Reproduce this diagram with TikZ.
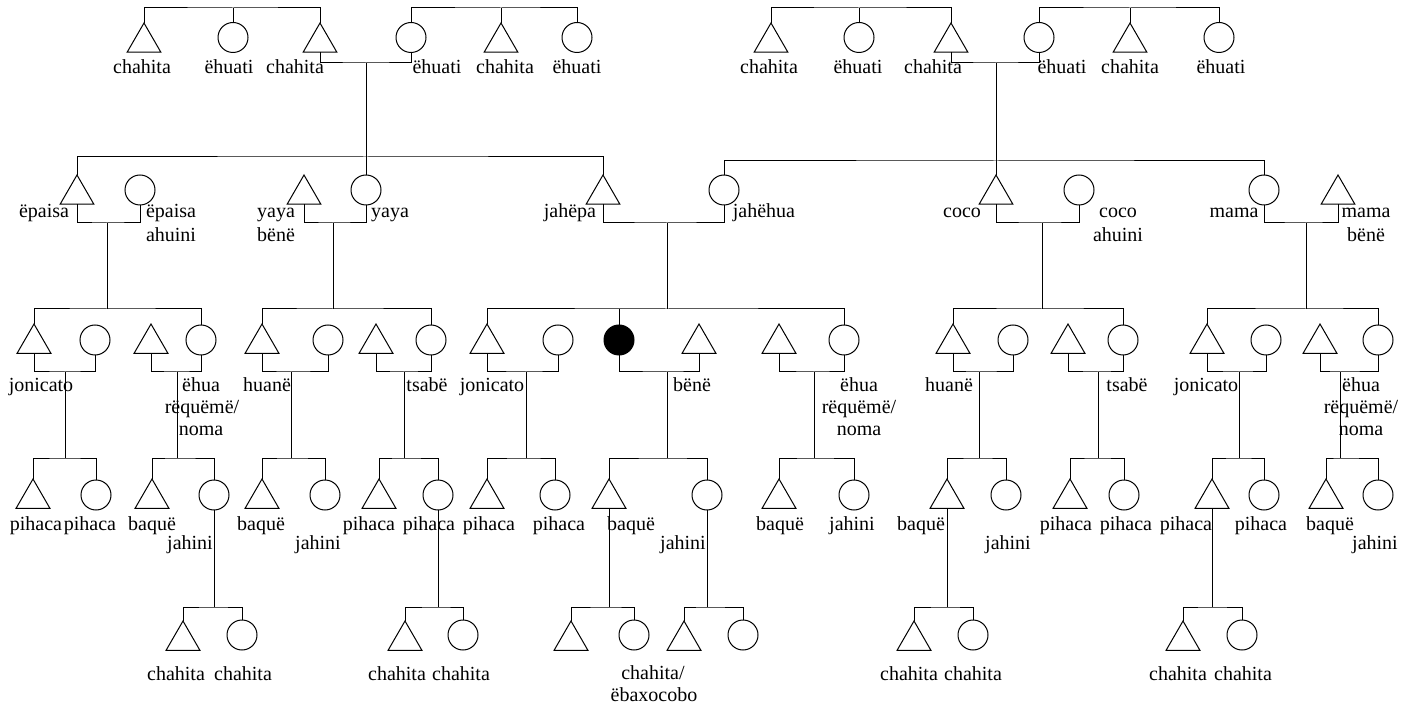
\documentclass[tikz,border=0pt]{standalone}
\usepackage{fontspec}
\setmainfont{Liberation Serif}
\usetikzlibrary{shapes.geometric}
\tikzset{
  male/.style={draw, regular polygon, regular polygon sides=3, minimum size=39pt, inner sep=0pt, outer sep=0pt, anchor=north},
  female/.style={draw, circle, minimum size=30pt, inner sep=0pt, outer sep=0pt},
  egof/.style={female, fill=black},
  lbl/.style={anchor=mid, inner sep=0pt, yshift=-2pt, font=\fontsize{20}{23}\selectfont},
}
\newcommand\mylbl[4]{\node[lbl] (#1) at (#2,#3) {#4};}
\begin{document}
\begin{tikzpicture}[x=1pt, y=-1pt, line width=1pt]
\useasboundingbox (0,0) rectangle (1416,708);
% ---------- generation 1 ----------
\node[male] (a1) at (144,23) {};
\node[female] (a2) at (233,37.5) {};
\node[male] (a3) at (320,23) {};
\node[female] (a4) at (411,37.5) {};
\node[male] (a5) at (501,23) {};
\node[female] (a6) at (577,37.5) {};
\coordinate (s1) at (233,8); \coordinate (s2) at (501,8);
\draw (a1.north) |- (s1) -| (a3.north); \draw (s1) -- (a2.north);
\draw (a4.north) |- (s2) -| (a6.north); \draw (s2) -- (a5.north);
\coordinate (m1) at (366,63);
\draw (a3.south) |- (m1) -| (a4.south);

\node[male] (b1) at (771,23) {};
\node[female] (b2) at (859,37.5) {};
\node[male] (b3) at (951,23) {};
\node[female] (b4) at (1039,37.5) {};
\node[male] (b5) at (1130,23) {};
\node[female] (b6) at (1219,37.5) {};
\coordinate (s3) at (859,8); \coordinate (s4) at (1130,8);
\draw (b1.north) |- (s3) -| (b3.north); \draw (s3) -- (b2.north);
\draw (b4.north) |- (s4) -| (b6.north); \draw (s4) -- (b5.north);
\coordinate (m2) at (996,63);
\draw (b3.south) |- (m2) -| (b4.south);

% ---------- generation 2 ----------
\node[male] (epa) at (77,175) {};
\node[female] (epw) at (140,190) {};
\node[male] (yyh) at (304,175) {};
\node[female] (yy) at (366,190) {};
\node[male] (jp) at (603,175) {};
\node[female] (jh) at (724,190) {};
\node[male] (co) at (996,175) {};
\node[female] (cow) at (1079,190) {};
\node[female] (ma) at (1264,190) {};
\node[male] (mah) at (1338,175) {};
\coordinate (s5) at (366,157);
\draw (epa.north) |- (s5) -| (jp.north); \draw (m1) -- (yy.north);
\coordinate (s6) at (996,161);
\draw (jh.north) |- (s6) -| (ma.north); \draw (m2) -- (co.north);
\coordinate (m3) at (107,223); \draw (epa.south) |- (m3) -| (epw.south);
\coordinate (m4) at (333,223); \draw (yyh.south) |- (m4) -| (yy.south);
\coordinate (m5) at (667,223); \draw (jp.south) |- (m5) -| (jh.south);
\coordinate (m6) at (1042,223); \draw (co.south) |- (m6) -| (cow.south);
\coordinate (m7) at (1306,223); \draw (ma.south) |- (m7) -| (mah.south);

% ---------- generation 3 ----------
\node[male] (c1) at (34,324) {};
\node[female] (c2) at (95,340) {};
\node[male] (c3) at (151,324) {};
\node[female] (c4) at (201,340) {};
\node[male] (c5) at (262,324) {};
\node[female] (c6) at (328,340) {};
\node[male] (c7) at (376,324) {};
\node[female] (c8) at (431,340) {};
\node[male] (c9) at (487,324) {};
\node[female] (c10) at (558,340) {};
\node[egof] (ego) at (619,340) {};
\node[male] (c12) at (699,324) {};
\node[male] (c13) at (779,324) {};
\node[female] (c14) at (844,340) {};
\node[male] (c15) at (953,324) {};
\node[female] (c16) at (1013,340) {};
\node[male] (c17) at (1068,324) {};
\node[female] (c18) at (1123,340) {};
\node[male] (c19) at (1207,324) {};
\node[female] (c20) at (1266,340) {};
\node[male] (c21) at (1320,324) {};
\node[female] (c22) at (1378,340) {};
\coordinate (s7) at (107,309); \draw (c1.north) |- (s7) -| (c4.north); \draw (m3) -- (s7);
\coordinate (s8) at (333,309); \draw (c5.north) |- (s8) -| (c8.north); \draw (m4) -- (s8);
\coordinate (s9) at (667,309); \draw (c9.north) |- (s9) -| (c14.north); \draw (m5) -- (s9);
\draw (ego.north) -- (ego.north |- s9);
\coordinate (s10) at (1042,309); \draw (c15.north) |- (s10) -| (c18.north); \draw (m6) -- (s10);
\coordinate (s11) at (1306,309); \draw (c19.north) |- (s11) -| (c22.north); \draw (m7) -- (s11);
\coordinate (m8) at (65,372); \draw (c1.south) |- (m8) -| (c2.south);
\coordinate (m9) at (177,372); \draw (c3.south) |- (m9) -| (c4.south);
\coordinate (m10) at (291,372); \draw (c5.south) |- (m10) -| (c6.south);
\coordinate (m11) at (404,372); \draw (c7.south) |- (m11) -| (c8.south);
\coordinate (m12) at (526,372); \draw (c9.south) |- (m12) -| (c10.south);
\coordinate (m13) at (667,372); \draw (ego.south) |- (m13) -| (c12.south);
\coordinate (m14) at (814,372); \draw (c13.south) |- (m14) -| (c14.south);
\coordinate (m15) at (979,372); \draw (c15.south) |- (m15) -| (c16.south);
\coordinate (m16) at (1098,372); \draw (c17.south) |- (m16) -| (c18.south);
\coordinate (m17) at (1239,372); \draw (c19.south) |- (m17) -| (c20.south);
\coordinate (m18) at (1340,372); \draw (c21.south) |- (m18) -| (c22.south);

% ---------- generation 4 ----------
\node[male] (d1) at (33,479) {};   \node[female] (d2) at (96,495) {};
\node[male] (d3) at (152,479) {};  \node[female] (d4) at (214,495) {};
\node[male] (d5) at (262,479) {};  \node[female] (d6) at (325,495) {};
\node[male] (d7) at (379,479) {};  \node[female] (d8) at (438,495) {};
\node[male] (d9) at (487,479) {};  \node[female] (d10) at (555,495) {};
\node[male] (d11) at (609,479) {}; \node[female] (d12) at (707,495) {};
\node[male] (d13) at (779,479) {}; \node[female] (d14) at (854,495) {};
\node[male] (d15) at (947,479) {}; \node[female] (d16) at (1006,495) {};
\node[male] (d17) at (1070,479) {};\node[female] (d18) at (1124,495) {};
\node[male] (d19) at (1212,479) {};\node[female] (d20) at (1264,495) {};
\node[male] (d21) at (1326,479) {};\node[female] (d22) at (1378,495) {};
\coordinate (t1) at (65,458);   \draw (d1.north) |- (t1) -| (d2.north);   \draw (m8) -- (t1);
\coordinate (t2) at (177,458);  \draw (d3.north) |- (t2) -| (d4.north);   \draw (m9) -- (t2);
\coordinate (t3) at (291,458);  \draw (d5.north) |- (t3) -| (d6.north);   \draw (m10) -- (t3);
\coordinate (t4) at (404,458);  \draw (d7.north) |- (t4) -| (d8.north);   \draw (m11) -- (t4);
\coordinate (t5) at (526,458);  \draw (d9.north) |- (t5) -| (d10.north);  \draw (m12) -- (t5);
\coordinate (t6) at (667,458);  \draw (d11.north) |- (t6) -| (d12.north); \draw (m13) -- (t6);
\coordinate (t7) at (814,458);  \draw (d13.north) |- (t7) -| (d14.north); \draw (m14) -- (t7);
\coordinate (t8) at (979,458);  \draw (d15.north) |- (t8) -| (d16.north); \draw (m15) -- (t8);
\coordinate (t9) at (1098,458); \draw (d17.north) |- (t9) -| (d18.north); \draw (m16) -- (t9);
\coordinate (t10) at (1239,458);\draw (d19.north) |- (t10) -| (d20.north);\draw (m17) -- (t10);
\coordinate (t11) at (1340,458);\draw (d21.north) |- (t11) -| (d22.north);\draw (m18) -- (t11);

% ---------- generation 5 ----------
\node[male] (e1) at (183,621) {};  \node[female] (e2) at (242,635) {};
\node[male] (e3) at (405,621) {};  \node[female] (e4) at (463,635) {};
\node[male] (e5) at (571,621) {};  \node[female] (e6) at (634,635) {};
\node[male] (e7) at (684,621) {};  \node[female] (e8) at (743,635) {};
\node[male] (e9) at (914,621) {};  \node[female] (e10) at (973,635) {};
\node[male] (e11) at (1183,621) {};\node[female] (e12) at (1242,635) {};
\coordinate (u1) at (214,607);  \draw (d4.south) -- (u1);  \draw (e1.north) |- (u1) -| (e2.north);
\coordinate (u2) at (438,607);  \draw (d8.south) -- (u2);  \draw (e3.north) |- (u2) -| (e4.north);
\coordinate (u3) at (609,607);  \draw (d11.south) -- (u3); \draw (e5.north) |- (u3) -| (e6.north);
\coordinate (u4) at (707,607);  \draw (d12.south) -- (u4); \draw (e7.north) |- (u4) -| (e8.north);
\coordinate (u5) at (947,607);  \draw (d15.south) -- (u5); \draw (e9.north) |- (u5) -| (e10.north);
\coordinate (u6) at (1212,607); \draw (d19.south) -- (u6); \draw (e11.north) |- (u6) -| (e12.north);

% ---------- labels ----------
\mylbl{la1}{142}{69}{chahita}
\mylbl{la2}{229}{69}{ëhuati}
\mylbl{la3}{295}{69}{chahita}
\mylbl{la4}{437}{69}{ëhuati}
\mylbl{la5}{505}{69}{chahita}
\mylbl{la6}{577}{69}{ëhuati}
\mylbl{lb1}{769}{69}{chahita}
\mylbl{lb2}{858}{69}{ëhuati}
\mylbl{lb3}{933}{69}{chahita}
\mylbl{lb4}{1062}{69}{ëhuati}
\mylbl{lb5}{1130}{69}{chahita}
\mylbl{lb6}{1221}{69}{ëhuati}

\mylbl{l2a}{44}{213}{ëpaisa}
\mylbl{l2b}{171}{213}{ëpaisa}
\mylbl{l2bb}{171}{237}{ahuini}
\mylbl{l2c}{276}{213}{yaya}
\mylbl{l2cc}{276}{237}{bënë}
\mylbl{l2d}{390}{213}{yaya}
\mylbl{l2e}{570}{213}{jahëpa}
\mylbl{l2f}{764}{213}{jahëhua}
\mylbl{l2g}{962}{213}{coco}
\mylbl{l2h}{1118}{213}{coco}
\mylbl{l2hh}{1118}{237}{ahuini}
\mylbl{l2i}{1234}{213}{mama}
\mylbl{l2j}{1366}{213}{mama}
\mylbl{l2jj}{1366}{237}{bënë}

\mylbl{l3a}{41}{387}{jonicato}
\mylbl{l3b}{201}{387}{ëhua}
\mylbl{l3bb}{202}{409}{rëquëmë/}
\mylbl{l3bbb}{201}{431}{noma}
\mylbl{l3c}{267}{387}{huanë}
\mylbl{l3d}{427}{387}{tsabë}
\mylbl{l3e}{492}{387}{jonicato}
\mylbl{l3f}{692}{387}{bënë}
\mylbl{l3g}{859}{387}{ëhua}
\mylbl{l3gg}{859}{409}{rëquëmë/}
\mylbl{l3ggg}{859}{431}{noma}
\mylbl{l3h}{949}{387}{huanë}
\mylbl{l3i}{1127}{387}{tsabë}
\mylbl{l3j}{1206}{387}{jonicato}
\mylbl{l3k}{1361}{387}{ëhua}
\mylbl{l3kk}{1361}{409}{rëquëmë/}
\mylbl{l3kkk}{1361}{431}{noma}

\mylbl{l4a}{36}{526}{pihaca}
\mylbl{l4b}{90}{526}{pihaca}
\mylbl{l4c}{152}{526}{baquë}
\mylbl{l4d}{190}{545}{jahini}
\mylbl{l4e}{261}{526}{baquë}
\mylbl{l4f}{318}{545}{jahini}
\mylbl{l4g}{369}{526}{pihaca}
\mylbl{l4h}{429}{526}{pihaca}
\mylbl{l4i}{489}{526}{pihaca}
\mylbl{l4j}{559}{526}{pihaca}
\mylbl{l4k}{631}{526}{baquë}
\mylbl{l4l}{683}{545}{jahini}
\mylbl{l4m}{780}{526}{baquë}
\mylbl{l4n}{852}{526}{jahini}
\mylbl{l4o}{921}{526}{baquë}
\mylbl{l4p}{1008}{545}{jahini}
\mylbl{l4q}{1066}{526}{pihaca}
\mylbl{l4r}{1126}{526}{pihaca}
\mylbl{l4s}{1186}{526}{pihaca}
\mylbl{l4t}{1261}{526}{pihaca}
\mylbl{l4u}{1330}{526}{baquë}
\mylbl{l4v}{1375}{545}{jahini}

\mylbl{l5a}{176}{676}{chahita}
\mylbl{l5b}{243}{676}{chahita}
\mylbl{l5c}{397}{676}{chahita}
\mylbl{l5d}{461}{676}{chahita}
\mylbl{l5e}{653}{675}{chahita/}
\mylbl{l5ee}{654}{697}{ëbaxocobo}
\mylbl{l5f}{909}{676}{chahita}
\mylbl{l5g}{973}{676}{chahita}
\mylbl{l5h}{1178}{676}{chahita}
\mylbl{l5i}{1243}{676}{chahita}
\end{tikzpicture}
\end{document}
